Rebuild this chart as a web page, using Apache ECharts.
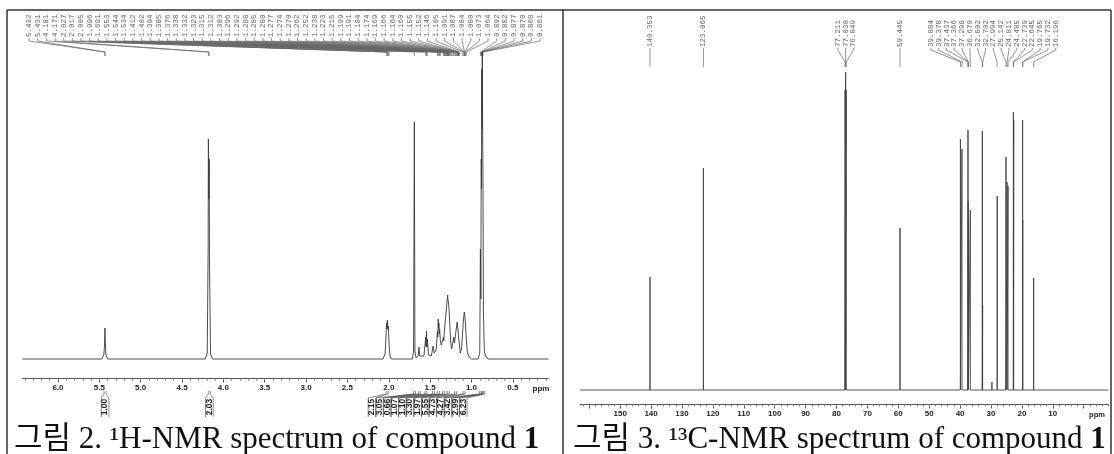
<!DOCTYPE html>
<html>
<head>
<meta charset="utf-8">
<style>
  html, body { margin: 0; padding: 0; background: #fff; }
  #chart { width: 1114px; height: 454px; }
</style>
<script src="https://cdn.jsdelivr.net/npm/echarts@6.0.0/dist/echarts.min.js"></script>
</head>
<body>
<div id="chart"></div>
<script>
// 1H spectrum trace, [ppm, intensity]
var hSpectrum = [
  [6.43, 0], [5.47, 0], [5.445, 4], [5.437, 14], [5.432, 31], [5.428, 17], [5.42, 4], [5.40, 0],
  [4.22, 0], [4.195, 6], [4.184, 110], [4.181, 220], [4.176, 160], [4.171, 200], [4.168, 100], [4.155, 5], [4.13, 0],
  [3.53, 0], [3.52, 2], [3.51, 0],
  [2.07, 0], [2.045, 5], [2.035, 20], [2.027, 36], [2.022, 30], [2.017, 39], [2.011, 30], [2.005, 33], [1.996, 14], [1.985, 3], [1.97, 0],
  [1.715, 0], [1.70, 8], [1.691, 237], [1.684, 8], [1.67, 1],
  [1.645, 3], [1.635, 12], [1.625, 3],
  [1.575, 3], [1.553, 22], [1.549, 12], [1.544, 28], [1.539, 12], [1.534, 20], [1.52, 4],
  [1.50, 6], [1.485, 3], [1.465, 13], [1.45, 6],
  [1.425, 10], [1.412, 28], [1.407, 22], [1.402, 40], [1.398, 30], [1.394, 36], [1.389, 25], [1.385, 30], [1.376, 18], [1.365, 14],
  [1.345, 16], [1.338, 22], [1.335, 18], [1.332, 24], [1.323, 32], [1.315, 40], [1.312, 38], [1.303, 50], [1.296, 58],
  [1.292, 56], [1.288, 64], [1.285, 60], [1.280, 61], [1.277, 56], [1.274, 58], [1.270, 48], [1.262, 34], [1.252, 18], [1.240, 10],
  [1.230, 14], [1.223, 18], [1.215, 22], [1.207, 16], [1.199, 20], [1.191, 26], [1.184, 30], [1.174, 37], [1.169, 33],
  [1.166, 35], [1.160, 27], [1.155, 21], [1.152, 23], [1.146, 14], [1.135, 6],
  [1.12, 10], [1.105, 30], [1.098, 38], [1.091, 44], [1.087, 47], [1.084, 45], [1.080, 43], [1.073, 36], [1.064, 22], [1.05, 7], [1.03, 2], [1.00, 0],
  [0.92, 0], [0.90, 6], [0.892, 110], [0.887, 60], [0.882, 200], [0.879, 170], [0.877, 290], [0.873, 230], [0.870, 307],
  [0.868, 298], [0.865, 220], [0.861, 185], [0.856, 50], [0.845, 8], [0.83, 3], [0.80, 0], [0.07, 0]
];

var hPeakLabels = [
  5.432, 5.431, 4.181, 4.171, 2.027, 2.017, 2.005, 1.996, 1.691, 1.553, 1.544, 1.534,
  1.412, 1.402, 1.394, 1.385, 1.376, 1.338, 1.332, 1.323, 1.315, 1.312, 1.303, 1.296,
  1.292, 1.288, 1.285, 1.280, 1.277, 1.274, 1.270, 1.262, 1.252, 1.238, 1.223, 1.215,
  1.199, 1.191, 1.184, 1.174, 1.169, 1.166, 1.164, 1.160, 1.155, 1.152, 1.146, 1.105,
  1.091, 1.087, 1.084, 1.080, 1.073, 1.064, 0.892, 0.882, 0.877, 0.870, 0.868, 0.861
];

var hIntegralPpm = [5.43, 4.17, 2.02, 1.69, 1.63, 1.55, 1.46, 1.40, 1.34, 1.28, 1.19, 1.09, 0.89, 0.87, 0.85];
var hIntegralValues = ["1.00", "2.03", "2.15", "3.05", "0.66", "1.07", "1.10", "3.30", "1.97", "5.55", "4.73", "4.27", "3.42", "2.99", "6.23"];

var hTickLabels = [6.0, 5.5, 5.0, 4.5, 4.0, 3.5, 3.0, 2.5, 2.0, 1.5, 1.0, 0.5];

// 13C peaks
var cPeaks = [140.353, 123.065, 77.211, 77.030, 76.849, 59.445, 39.884, 39.378, 37.437, 37.366, 37.298,
  36.670, 32.802, 32.702, 27.994, 25.142, 24.811, 24.485, 22.739, 22.645, 19.765, 19.732, 16.196];
var cHeights = [113, 222, 300, 318, 300, 162, 251, 241, 260, 188, 170,
  180, 259, 85, 194, 233, 208, 204, 278, 270, 270, 170, 112];
var cSmallPeaks = [29.70];
var cSmallHeights = [8];

var cTickLabels = [150, 140, 130, 120, 110, 100, 90, 80, 70, 60, 50, 40, 30, 20, 10];
var cMajorTicks = [160, 150, 140, 130, 120, 110, 100, 90, 80, 70, 60, 50, 40, 30, 20, 10, 0];

var captionLeft = "그림 2. ¹H-NMR spectrum of compound ";
var captionRight = "그림 3. ¹³C-NMR spectrum of compound ";
var compoundNo = "1";

(function () {
  var LABEL_FONT = '"Liberation Mono", "DejaVu Sans Mono", monospace';
  var AXIS_FONT = '"Liberation Sans", Arial, sans-serif';
  var CAPTION_FONT = '"Liberation Serif", "Noto Sans CJK KR", serif';

  var hMinorTicks = [];
  for (var k = 1; k <= 64; k++) hMinorTicks.push(k / 10);
  var cMinorTicks = [];
  for (var m = -8; m <= 162; m += 2) cMinorTicks.push(m);

  // stick spectrum for carbon
  var cAll = cPeaks.map(function (p, i) { return [p, cHeights[i]]; })
    .concat(cSmallPeaks.map(function (p, i) { return [p, cSmallHeights[i]]; }))
    .sort(function (a, b) { return b[0] - a[0]; });
  var cSpectrum = [[163, 0]];
  cAll.forEach(function (d) {
    cSpectrum.push([d[0], 0], [d[0], d[1]], [d[0], 0]);
  });
  cSpectrum.push([-8, 0]);

  function groupSpread(xs, gap, join) {
    var out = [];
    var groups = [];
    var cur = [0];
    for (var i = 1; i < xs.length; i++) {
      if (xs[i] - xs[i - 1] < join) cur.push(i);
      else { groups.push(cur); cur = [i]; }
    }
    groups.push(cur);
    groups.forEach(function (g) {
      var mean = 0;
      g.forEach(function (idx) { mean += xs[idx]; });
      mean /= g.length;
      var start = mean - (g.length - 1) * gap / 2;
      g.forEach(function (idx, j) { out[idx] = start + j * gap; });
    });
    return out;
  }

  function labelItem(text, lx, px, yb, k1, k2, yEnd) {
    return {
      type: "group",
      children: [
        {
          type: "text", x: lx, y: yb, rotation: Math.PI / 2,
          style: { text: text, fill: "#666", fontSize: 7.5, fontFamily: LABEL_FONT, align: "left", verticalAlign: "middle" }
        },
        {
          type: "polyline",
          shape: { points: [[lx, yb + 1], [lx, k1], [px, k2], [px, yEnd]] },
          style: { stroke: "#666", lineWidth: 0.7, fill: null }
        }
      ]
    };
  }

  function renderHLabel(params, api) {
    var i = params.dataIndex;
    var px = api.coord([api.value(0), 0])[0];
    var lx = 29 + i * (511 / (hPeakLabels.length - 1));
    return labelItem(hPeakLabels[i].toFixed(3), lx, px, 37, 41, 52, 56);
  }

  function renderCLabel(params, api) {
    var xs = cPeaks.map(function (p) { return api.coord([p, 0])[0]; });
    var pos = groupSpread(xs, 7.8, 15);
    var i = params.dataIndex;
    return labelItem(cPeaks[i].toFixed(3), pos[i], xs[i], 47, 50, 62, 67);
  }

  function renderIntegral(params, api) {
    var i = params.dataIndex;
    var px = api.coord([api.value(0), 0])[0];
    var first = 0;
    while (hIntegralPpm[first] > 2.5) first++;
    var bx = i < first ? px : 372 + (i - first) * 7.6;
    var hw = 3.8;
    var st = { stroke: "#555", lineWidth: 0.7, fill: null };
    return {
      type: "group",
      children: [
        {
          type: "text", x: bx, y: 407, rotation: Math.PI / 2,
          style: { text: hIntegralValues[i], fill: "#222", fontSize: 8.5, fontWeight: "bold", fontFamily: AXIS_FONT, align: "center", verticalAlign: "middle" }
        },
        { type: "polyline", shape: { points: [[bx - hw, 417], [bx - hw, 398], [px - 1, 394], [px - 1, 391]] }, style: st },
        { type: "polyline", shape: { points: [[bx + hw, 417], [bx + hw, 398], [px + 1, 394], [px + 1, 391]] }, style: st }
      ]
    };
  }

  function majorAxis(grid, min, max, ticks, labels, digits) {
    return {
      gridIndex: grid, type: "value", inverse: true, min: min, max: max, position: "bottom",
      axisLine: { show: true, onZero: false, lineStyle: { color: "#555", width: 1 } },
      axisTick: { show: true, length: 4.5, customValues: ticks, lineStyle: { color: "#555", width: 1 } },
      axisLabel: {
        customValues: labels, margin: 6, color: "#222", fontSize: 8, fontWeight: "bold", fontFamily: AXIS_FONT,
        formatter: function (v) { return Number(v).toFixed(digits); }
      },
      splitLine: { show: false }
    };
  }

  function minorAxis(grid, min, max, ticks) {
    return {
      gridIndex: grid, type: "value", inverse: true, min: min, max: max, position: "bottom",
      axisLine: { show: false, onZero: false },
      axisTick: { show: true, length: 2.5, customValues: ticks, lineStyle: { color: "#777", width: 1 } },
      axisLabel: { show: false },
      splitLine: { show: false }
    };
  }

  function caption(text, left) {
    return {
      text: "{a|" + text + "}{b|" + compoundNo + "}",
      left: left, top: 419,
      textStyle: {
        fontWeight: "normal",
        rich: {
          a: { fontSize: 31, fontFamily: CAPTION_FONT, fontWeight: "normal", color: "#111" },
          b: { fontSize: 31, fontFamily: CAPTION_FONT, fontWeight: "bold", color: "#111" }
        }
      }
    };
  }

  var frame = { stroke: "#333", lineWidth: 1.5 };
  var option = {
    animation: false,
    backgroundColor: "#fff",
    title: [caption(captionLeft, 9), caption(captionRight, 568)],
    grid: [
      { left: 22.4, width: 526, top: 49, height: 329 },
      { left: 580, width: 528.4, top: 70, height: 334 }
    ],
    xAxis: [
      majorAxis(0, 0.07, 6.43, hTickLabels, hTickLabels, 1),
      minorAxis(0, 0.07, 6.43, hMinorTicks),
      majorAxis(1, -8, 163, cMajorTicks, cTickLabels, 0),
      minorAxis(1, -8, 163, cMinorTicks)
    ],
    yAxis: [
      { gridIndex: 0, type: "value", min: -19, max: 310, show: false },
      { gridIndex: 1, type: "value", min: -14, max: 320, show: false }
    ],
    series: [
      {
        type: "line", xAxisIndex: 0, yAxisIndex: 0, data: hSpectrum, showSymbol: false,
        lineStyle: { color: "#3a3a3a", width: 0.9 }, silent: true
      },
      {
        type: "line", xAxisIndex: 2, yAxisIndex: 1, data: cSpectrum, showSymbol: false,
        lineStyle: { color: "#444", width: 0.9 }, silent: true
      },
      {
        type: "custom", xAxisIndex: 0, yAxisIndex: 0, clip: false, silent: true,
        data: hPeakLabels.map(function (p) { return [p, 0]; }), renderItem: renderHLabel
      },
      {
        type: "custom", xAxisIndex: 2, yAxisIndex: 1, clip: false, silent: true,
        data: cPeaks.map(function (p) { return [p, 0]; }), renderItem: renderCLabel
      },
      {
        type: "custom", xAxisIndex: 0, yAxisIndex: 0, clip: false, silent: true,
        data: hIntegralPpm.map(function (p) { return [p, 0]; }), renderItem: renderIntegral
      }
    ],
    graphic: [
      { type: "line", shape: { x1: 7, y1: 10, x2: 1111, y2: 10 }, style: frame },
      { type: "line", shape: { x1: 7, y1: 10, x2: 7, y2: 454 }, style: frame },
      { type: "line", shape: { x1: 563, y1: 10, x2: 563, y2: 454 }, style: frame },
      { type: "line", shape: { x1: 1111, y1: 10, x2: 1111, y2: 454 }, style: frame },
      {
        type: "text", x: 541, y: 389,
        style: { text: "ppm", fill: "#222", fontSize: 8, fontWeight: "bold", fontFamily: AXIS_FONT, align: "center", verticalAlign: "middle" }
      },
      {
        type: "text", x: 1097, y: 415,
        style: { text: "ppm", fill: "#222", fontSize: 7.5, fontWeight: "bold", fontFamily: AXIS_FONT, align: "center", verticalAlign: "middle" }
      }
    ]
  };

  var chart = echarts.init(document.getElementById("chart"), null, { renderer: "canvas" });
  chart.setOption(option);
})();
</script>
</body>
</html>
